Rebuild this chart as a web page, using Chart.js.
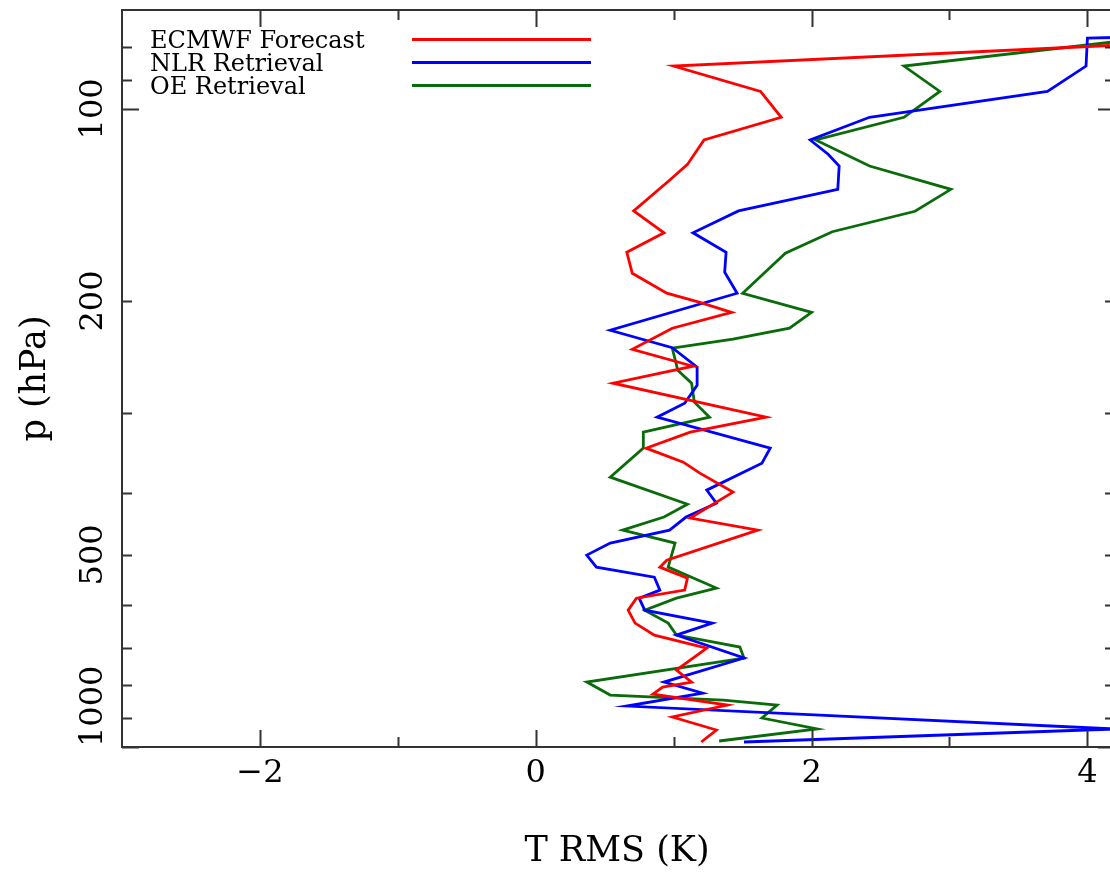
<!DOCTYPE html>
<html>
<head>
<meta charset="utf-8">
<script src="https://cdn.jsdelivr.net/npm/chart.js@4/dist/chart.umd.min.js"></script>
<style>
  html, body { margin: 0; padding: 0; background: #fff; overflow: hidden; }
  #chart { display: block; }
</style>
</head>
<body>
<canvas id="chart" width="1115" height="874"></canvas>
<script>
// vertices: pressure (hPa) and T RMS (K)
const ecmwfP = [76.5, 85.7, 93.9, 103.1, 111.9, 122.2, 129.4, 144.5, 156.4, 167.8, 181.0, 194.5, 201.0, 208.4,
  220.7, 238.1, 253.1, 269.1, 304.2, 321.1, 340.2, 357.8, 372.3, 398.6, 437.8, 457.2, 509.6, 522.6, 543.8,
  567.8, 584.5, 610.3, 639.5, 667.8, 699.8, 757.6, 791.1, 805.4, 826.0, 859.4, 897.4, 940.6, 982.2];
const ecmwfT = [5.83, 1.00, 1.63, 1.78, 1.22, 1.10, 0.97, 0.71, 0.93, 0.66, 0.70, 0.95, 1.19, 1.42,
  0.99, 0.70, 1.14, 0.56, 1.67, 1.12, 0.80, 1.07, 1.19, 1.43, 1.12, 1.61, 0.95, 0.90, 1.10,
  1.08, 0.73, 0.67, 0.72, 0.86, 1.24, 1.02, 1.13, 0.92, 0.85, 1.39, 0.99, 1.31, 1.20];

const nlrP = [76.5, 77.5, 85.7, 93.9, 103.1, 111.9, 117.8, 122.9, 133.7, 144.5, 156.4, 167.8, 180.3, 194.5,
  222.3, 236.8, 254.0, 271.1, 289.3, 304.2, 340.2, 359.1, 395.8, 414.9, 436.2, 457.2, 479.2, 500.4, 522.6,
  541.8, 567.8, 584.5, 610.3, 639.5, 667.8, 725.4, 791.1, 823.2, 862.6, 937.1, 982.2];
const nlrT = [5.0, 4.00, 3.99, 3.71, 2.42, 1.99, 2.12, 2.20, 2.19, 1.47, 1.14, 1.38, 1.37, 1.46,
  0.54, 0.99, 1.17, 1.17, 1.08, 0.88, 1.70, 1.64, 1.24, 1.31, 1.09, 0.97, 0.54, 0.37, 0.44,
  0.86, 0.90, 0.75, 0.79, 1.28, 1.02, 1.51, 0.93, 1.21, 0.66, 4.20, 1.51];

const oeP = [76.5, 85.7, 93.9, 103.1, 111.9, 122.9, 133.7, 144.7, 155.8, 168.4, 194.5, 208.4, 220.7, 229.6,
  237.2, 256.8, 269.1, 288.2, 304.2, 321.1, 340.2, 377.7, 416.5, 436.2, 457.2, 479.2, 522.6, 563.6, 584.5,
  610.3, 639.5, 667.8, 697.2, 725.4, 791.1, 829.0, 844.1, 859.4, 900.7, 937.1, 978.6];
const oeT = [4.65, 2.67, 2.93, 2.67, 2.03, 2.42, 3.01, 2.75, 2.15, 1.81, 1.50, 2.00, 1.84, 1.43,
  0.99, 1.03, 1.13, 1.15, 1.26, 0.78, 0.78, 0.54, 1.10, 0.93, 0.63, 1.01, 0.96, 1.31, 1.02,
  0.79, 0.96, 1.02, 1.48, 1.51, 0.37, 0.54, 1.36, 1.75, 1.64, 2.04, 1.33];

const seriesNames = ['ECMWF Forecast', 'NLR Retrieval', 'OE Retrieval'];
const seriesColors = ['#ff0000', '#0000ff', '#0a6b0a'];

const xTickLabels = [-2, 0, 2, 4];
const xMinorTicks = [-1, 1, 3];
const yTickLabels = [100, 200, 500, 1000];
const yMajorTicks = [100, 1000];
const yMinorTicks = [80, 90, 200, 300, 400, 500, 600, 700, 800, 900];

const toPoints = (ps, ts) => ps.map((p, i) => ({x: ts[i], y: p}));

const SERIF = '"DejaVu Serif", serif';

// frame, inward ticks, labels and legend (drawn like the original plot)
const framePlugin = {
  id: 'framePlugin',
  afterDatasetsDraw(chart) {
    const ctx = chart.ctx;
    const a = chart.chartArea;
    const xs = chart.scales.x;
    const ys = chart.scales.y;
    ctx.save();
    ctx.strokeStyle = '#333';
    ctx.lineWidth = 2;
    ctx.strokeRect(a.left, a.top, a.right - a.left, a.bottom - a.top);

    const longT = 17, shortT = 10;
    ctx.beginPath();
    const xt = (v, len) => {
      const px = Math.round(xs.getPixelForValue(v)) + 0.5;
      ctx.moveTo(px, a.bottom); ctx.lineTo(px, a.bottom - len);
      ctx.moveTo(px, a.top); ctx.lineTo(px, a.top + len);
    };
    const yt = (v, len) => {
      const py = Math.round(ys.getPixelForValue(v)) + 0.5;
      ctx.moveTo(a.left, py); ctx.lineTo(a.left + len, py);
      ctx.moveTo(a.right, py); ctx.lineTo(a.right - len, py);
    };
    xTickLabels.forEach(v => xt(v, longT));
    xMinorTicks.forEach(v => xt(v, shortT));
    yMajorTicks.forEach(v => yt(v, longT));
    yMinorTicks.forEach(v => yt(v, shortT));
    ctx.stroke();

    // tick labels
    ctx.fillStyle = '#000';
    ctx.font = '32px ' + SERIF;
    ctx.textAlign = 'center';
    ctx.textBaseline = 'middle';
    xTickLabels.forEach(v => {
      const s = v < 0 ? '\u2212' + Math.abs(v) : String(v);
      ctx.fillText(s, xs.getPixelForValue(v), a.bottom + 27);
    });
    yTickLabels.forEach(v => {
      const s = String(v);
      const w = ctx.measureText(s).width;
      let py = ys.getPixelForValue(v);
      py = Math.min(py, a.bottom - w / 2);
      ctx.save();
      ctx.translate(a.left - 28, py);
      ctx.rotate(-Math.PI / 2);
      ctx.fillText(s, 0, 0);
      ctx.restore();
    });

    // axis titles
    ctx.font = '35px ' + SERIF;
    ctx.fillText('T RMS (K)', 617, 852);
    ctx.save();
    ctx.translate(36, (a.top + a.bottom) / 2);
    ctx.rotate(-Math.PI / 2);
    ctx.fillText('p (hPa)', 0, 0);
    ctx.restore();

    // legend: text on the left, line sample on the right
    ctx.font = '24px ' + SERIF;
    ctx.textAlign = 'left';
    ctx.textBaseline = 'alphabetic';
    chart.data.datasets.forEach((ds, i) => {
      const ly = 39 + i * 23;
      ctx.fillStyle = '#000';
      ctx.fillText(ds.label, 150, ly + 9);
      ctx.strokeStyle = ds.borderColor;
      ctx.lineWidth = 3;
      ctx.beginPath();
      ctx.moveTo(412, ly + 0.5);
      ctx.lineTo(591, ly + 0.5);
      ctx.stroke();
    });
    ctx.restore();
  }
};

new Chart(document.getElementById('chart'), {
  type: 'scatter',
  data: {
    datasets: [
      {label: seriesNames[0], data: toPoints(ecmwfP, ecmwfT), borderColor: seriesColors[0]},
      {label: seriesNames[1], data: toPoints(nlrP, nlrT), borderColor: seriesColors[1]},
      {label: seriesNames[2], data: toPoints(oeP, oeT), borderColor: seriesColors[2]},
    ].map(d => Object.assign(d, {
      showLine: true, pointRadius: 0, borderWidth: 2.8, tension: 0, fill: false,
      backgroundColor: d.borderColor,
    }))
  },
  options: {
    responsive: false,
    animation: false,
    devicePixelRatio: 1,
    layout: {padding: {left: 122, top: 10, right: 0, bottom: 127}},
    plugins: {legend: {display: false}, tooltip: {enabled: false}},
    scales: {
      x: {type: 'linear', min: -3, max: 4.2, display: false},
      y: {type: 'logarithmic', reverse: true, min: 70, max: 1000, display: false},
    }
  },
  plugins: [framePlugin]
});
</script>
</body>
</html>
